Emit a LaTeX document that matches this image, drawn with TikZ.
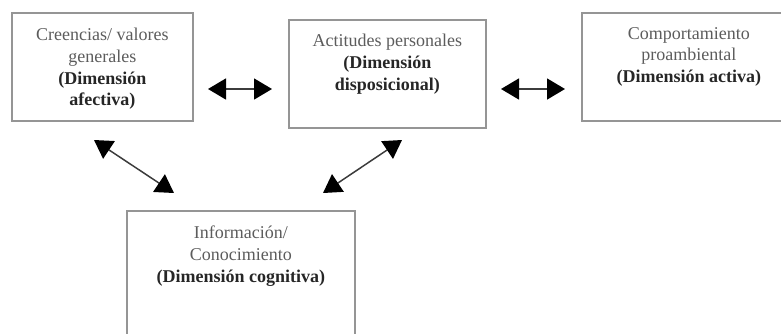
\documentclass[tikz,border=0pt]{standalone}
\usepackage{fontspec}
\setmainfont{Liberation Serif}
\usetikzlibrary{arrows.meta}
\definecolor{boxgray}{HTML}{959595}
\definecolor{txtgray}{HTML}{5C5C5C}
\definecolor{txtdark}{HTML}{262626}
\definecolor{arrowline}{HTML}{3C3C3C}
\begin{document}
\begin{tikzpicture}[x=1bp,y=-1bp,
  boxnode/.style={draw=boxgray, line width=1.8bp, rectangle, anchor=north west, inner sep=0pt},
  lbl/.style={anchor=north, align=center, inner sep=0pt, text=txtgray,
    font=\fontsize{18bp}{21.7bp}\selectfont},
  biarrow/.style={draw=arrowline, line width=1.5bp,
    {Triangle[length=18bp,width=21bp,fill=black,color=black]}-{Triangle[length=18bp,width=21bp,fill=black,color=black]}}
  ]
\useasboundingbox (0,0) rectangle (781,333);
\clip (0,0) rectangle (781,333);
% boxes
\node[boxnode, minimum width=181bp, minimum height=108bp] (b1) at (11,12) {};
\node[boxnode, minimum width=197bp, minimum height=108bp] (b2) at (288,19) {};
\node[boxnode, minimum width=214bp, minimum height=108bp] (b3) at (581,12) {};
\node[boxnode, minimum width=228bp, minimum height=160bp] (b4) at (126,210) {};
% texts
\node[lbl] (t1) at ([yshift=-16bp]b1.north) {Creencias/ valores\\generales\\\textcolor{txtdark}{\textbf{(Dimensión}}\\\textcolor{txtdark}{\textbf{afectiva)}}};
\node[lbl] (t2) at ([yshift=-15bp]b2.north) {Actitudes personales\\\textcolor{txtdark}{\textbf{(Dimensión}}\\\textcolor{txtdark}{\textbf{disposicional)}}};
\node[lbl] (t3) at ([yshift=-15bp]b3.north) {Comportamiento\\proambiental\\\textcolor{txtdark}{\textbf{(Dimensión activa)}}};
\node[lbl] (t4) at ([yshift=-16bp]b4.north) {Información/\\Conocimiento\\\textcolor{txtdark}{\textbf{(Dimensión cognitiva)}}};
% arrow end points
\coordinate (h1a) at (208,89);
\coordinate (h1b) at (272,89);
\coordinate (h2a) at (501,89);
\coordinate (h2b) at (565,89);
\coordinate (d1a) at (94,140);
\coordinate (d1b) at (174,193);
\coordinate (d2a) at (323,193);
\coordinate (d2b) at (402,140);
% arrows
\draw[biarrow] (h1a) -- (h1b);
\draw[biarrow] (h2a) -- (h2b);
\draw[biarrow] (d1a) -- (d1b);
\draw[biarrow] (d2a) -- (d2b);
\end{tikzpicture}
\end{document}
